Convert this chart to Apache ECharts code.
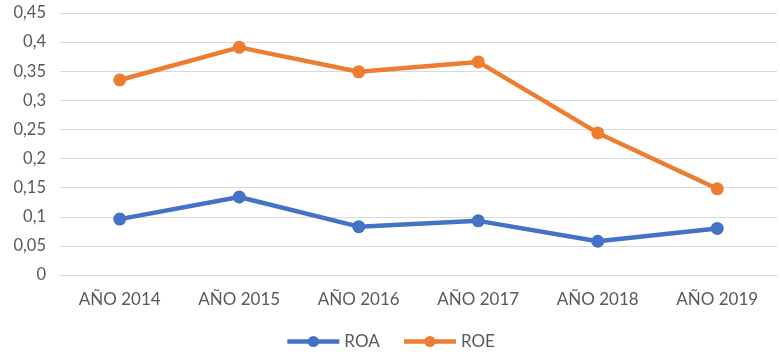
<!DOCTYPE html>
<html>
<head>
<meta charset="utf-8">
<script src="https://cdn.jsdelivr.net/npm/echarts@6/dist/echarts.min.js"></script>
<style>
  html, body { margin: 0; padding: 0; background: #fff; }
  #chart { width: 780px; height: 355px; }
</style>
</head>
<body>
<div id="chart"></div>
<script>
const years = ['AÑO 2014', 'AÑO 2015', 'AÑO 2016', 'AÑO 2017', 'AÑO 2018', 'AÑO 2019'];
const roa = [0.096, 0.134, 0.083, 0.093, 0.058, 0.08];
const roe = [0.335, 0.391, 0.349, 0.366, 0.244, 0.148];
const yTicks = [0, 0.05, 0.1, 0.15, 0.2, 0.25, 0.3, 0.35, 0.4, 0.45];

const chart = echarts.init(document.getElementById('chart'));
const font = 'Lato, "Liberation Sans", sans-serif';

var option = {
  color: ['#4472C4', '#ED7D31'],
  textStyle: { fontFamily: font },
  grid: { left: 60, right: 3, top: 13, bottom: 80 },
  legend: {
    bottom: 0,
    left: 'center',
    itemWidth: 52,
    itemHeight: 14,
    itemGap: 22,
    lineStyle: { width: 4.5 },
    textStyle: { color: '#595959', fontSize: 17, fontFamily: font },
    data: ['ROA', 'ROE']
  },
  xAxis: {
    type: 'category',
    data: years,
    axisLine: { lineStyle: { color: '#d9d9d9', width: 1 } },
    axisTick: { show: false },
    axisLabel: { color: '#595959', fontSize: 17, margin: 16 }
  },
  yAxis: {
    type: 'value',
    min: 0,
    max: yTicks[yTicks.length - 1],
    interval: 0.05,
    axisLine: { show: false },
    axisTick: { show: false },
    splitLine: { lineStyle: { color: '#d9d9d9', width: 1 } },
    axisLabel: {
      color: '#595959',
      fontSize: 16.5,
      margin: 14,
      formatter: v => String(+v.toFixed(2)).replace('.', ',')
    }
  },
  series: [
    {
      name: 'ROA', type: 'line', data: roa,
      symbol: 'circle', symbolSize: 13,
      lineStyle: { width: 4.5 },
      animation: false
    },
    {
      name: 'ROE', type: 'line', data: roe,
      symbol: 'circle', symbolSize: 13,
      lineStyle: { width: 4.5 },
      animation: false
    }
  ]
};

chart.setOption(option);
</script>
</body>
</html>
